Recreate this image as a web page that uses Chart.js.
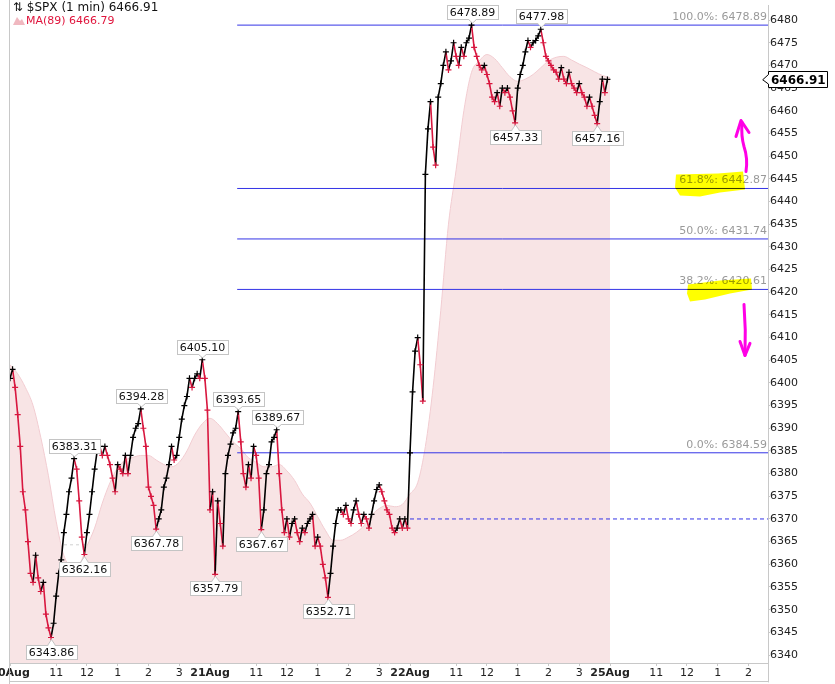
<!DOCTYPE html>
<html>
<head>
<meta charset="utf-8">
<script src="https://cdn.jsdelivr.net/npm/chart.js@4.4.0/dist/chart.umd.min.js"></script>
<style>
  html, body { margin: 0; padding: 0; background: #fff; }
  canvas { display: block; }
</style>
</head>
<body>
<canvas id="spxChart" width="835" height="684"></canvas>
<script>
// trading minutes since 20Aug 9:30, each session is 390 min long
const dayStart = [0, 390, 780];
const sampleStep = 5;   // closes sampled every 5 min
const maStep = 15;      // MA(89) read every 15 min

const day1Close = [6401, 6403, 6399, 6393, 6386, 6376, 6372, 6365, 6358, 6356, 6362, 6357, 6354, 6356, 6349, 6346,
  6343.86, 6347, 6353, 6358, 6361, 6367, 6371, 6376, 6379, 6383.31, 6381, 6374, 6366, 6362.16, 6367, 6371, 6376,
  6381, 6385, 6386, 6384, 6386, 6384, 6382, 6379, 6376, 6382, 6381, 6380, 6384, 6380, 6384, 6388, 6390, 6391,
  6394.28, 6390, 6386, 6377, 6375, 6373, 6367.78, 6370, 6372, 6377, 6379, 6382, 6386, 6383, 6384, 6388, 6392,
  6395, 6397, 6401, 6399, 6401, 6402, 6401, 6405.10, 6401, 6394];
const day2Close = [6372, 6376, 6357.79, 6374, 6369, 6364, 6380, 6384, 6386.5, 6389, 6390, 6393.65, 6387, 6380,
  6377, 6382, 6379, 6386, 6384, 6379, 6367.67, 6372, 6380, 6382, 6387, 6388, 6389.67, 6380, 6372, 6367, 6370,
  6366, 6369, 6370, 6367, 6365, 6368, 6367, 6369, 6370, 6371, 6364, 6366, 6364, 6360, 6357, 6352.71, 6358, 6364,
  6369, 6372, 6372, 6371, 6373, 6370, 6369, 6372, 6374, 6371, 6369, 6371, 6370, 6368, 6371, 6374, 6376.5, 6377.5,
  6376, 6374, 6372, 6371, 6368, 6367, 6368, 6370, 6368, 6370, 6368];
const day3Close = [6384.59, 6398, 6407, 6410, 6404, 6396, 6446, 6456, 6462, 6452, 6448, 6463, 6466, 6470, 6473,
  6469, 6471, 6475, 6472, 6470, 6474, 6472, 6475, 6476, 6478.89, 6474, 6472, 6470, 6469, 6470, 6468, 6466, 6463,
  6462, 6464, 6461, 6465, 6464, 6465, 6463, 6460, 6457.33, 6465, 6468, 6470, 6473, 6475.5, 6474, 6475, 6475.5,
  6476.5, 6477.98, 6475, 6472, 6471, 6470, 6469, 6468.5, 6467, 6469.5, 6467, 6466, 6468.5, 6466, 6465, 6464, 6466,
  6464, 6463, 6461, 6463, 6461, 6459, 6457.16, 6462, 6467, 6464, 6466.91];

const maDay1 = [6404, 6402, 6399, 6395, 6388, 6379.5, 6369.5, 6362, 6359.5, 6360, 6364, 6368, 6373.5, 6378, 6381.3,
  6383, 6383.6, 6384, 6384, 6383, 6382, 6381.5, 6382.5, 6385, 6388.5, 6391];
const maDay2 = [6392.2, 6391, 6389, 6387, 6385.5, 6383.5, 6382.5, 6381.5, 6381.5, 6382, 6380.6, 6378.5, 6375.5,
  6373.5, 6370.5, 6367.5, 6365.3, 6365.3, 6366, 6367, 6368.5, 6370.8, 6372.3, 6373, 6372.7, 6373.2];
const maDay3 = [6375.5, 6378, 6386, 6399, 6416, 6435, 6447, 6460, 6468.5, 6471, 6472.4, 6471.5, 6469.5, 6467.5,
  6466.5, 6467, 6468, 6469.5, 6471, 6471.8, 6472, 6471.2, 6470.3, 6469.5, 6468.6, 6467.8, 6467.3];

// fibonacci retracement drawn from the 21Aug morning
const fibLevels = ['100.0%', '61.8%', '50.0%', '38.2%', '0.0%'];
const fibValues = [6478.89, 6442.87, 6431.74, 6420.61, 6384.59];
const fibStartT = 443;
const closeAug21 = 6370;
const closeAug19 = 6364.3;

// high / low callouts
const calloutTimes = [80, 125, 145, 255, 285, 375, 400, 445, 490, 520, 620, 900, 985, 1035, 1145];
const calloutValues = [6343.86, 6383.31, 6362.16, 6394.28, 6367.78, 6405.10, 6357.79, 6393.65, 6367.67, 6389.67,
  6352.71, 6478.89, 6457.33, 6477.98, 6457.16];
const calloutKinds = ['L', 'H', 'L', 'H', 'L', 'H', 'L', 'H', 'L', 'H', 'L', 'H', 'L', 'H', 'L'];

const lastPrice = 6466.91;
const lastMA = 6466.79;

const xTickTimes = [0, 90, 150, 210, 270, 330, 390, 480, 540, 600, 660, 720, 780, 870, 930, 990, 1050, 1110,
  1170, 1260, 1320, 1380, 1440];
const xTickLabels = ['20Aug', '11', '12', '1', '2', '3', '21Aug', '11', '12', '1', '2', '3', '22Aug', '11', '12',
  '1', '2', '3', '25Aug', '11', '12', '1', '2'];
const yTickValues = [6340, 6345, 6350, 6355, 6360, 6365, 6370, 6375, 6380, 6385, 6390, 6395, 6400, 6405, 6410,
  6415, 6420, 6425, 6430, 6435, 6440, 6445, 6450, 6455, 6460, 6465, 6470, 6475, 6480];

const X_MAX = 1478.1;
const Y_MIN = 6338.24;
const Y_MAX = 6483.28;

const FONT = 'DejaVu Sans';
const UP = '#000000';
const DOWN = '#d8173f';
const FIB_BLUE = '#3434e6';

// build {x,y} points for the library
const priceData = [];
[day1Close, day2Close, day3Close].forEach((arr, d) => {
  arr.forEach((v, i) => priceData.push({ x: dayStart[d] + i * sampleStep, y: v }));
});
const maData = [];
[maDay1, maDay2, maDay3].forEach((arr, d) => {
  arr.forEach((v, i) => maData.push({ x: dayStart[d] + i * maStep, y: v }));
});

function pointColor(c) {
  const i = c.dataIndex;
  if (i > 0 && priceData[i].y < priceData[i - 1].y) return DOWN;
  return UP;
}

const fibSets = fibValues.map(v => ({
  data: [{ x: fibStartT, y: v }, { x: X_MAX, y: v }],
  borderColor: FIB_BLUE, borderWidth: 1, pointRadius: 0, order: 1
}));

const extras = {
  id: 'extras',
  afterDatasetsDraw(chart) {
    const c = chart.ctx;
    const xs = chart.scales.x, ys = chart.scales.y;
    const area = chart.chartArea;
    c.save();

    // fib labels
    c.font = '11px ' + FONT;
    c.fillStyle = '#9a9a9a';
    c.textAlign = 'right';
    c.textBaseline = 'middle';
    fibValues.forEach((v, k) => {
      c.fillText(fibLevels[k] + ': ' + v.toFixed(2), area.right - 1, ys.getPixelForValue(v) - 8);
    });

    // callouts
    calloutValues.forEach((v, k) => {
      const px = Math.round(xs.getPixelForValue(calloutTimes[k])) + 0.5;
      const py = ys.getPixelForValue(v);
      const high = calloutKinds[k] === 'H';
      const txt = v.toFixed(2);
      c.font = '11px ' + FONT;
      const w = Math.round(c.measureText(txt).width) + 6, h = 14;
      const cy = Math.round(high ? py - 13 : py + 14);
      const bx = Math.round(px - w / 2) + 0.5, by = cy - h / 2 + 0.5;
      c.fillStyle = '#fff';
      c.strokeStyle = '#c4c4c4';
      c.lineWidth = 1;
      c.fillRect(bx, by, w, h);
      c.strokeRect(bx, by, w, h);
      // pointer
      const edge = high ? by + h : by;
      const tip = high ? py - 2 : py + 2;
      c.beginPath();
      c.moveTo(px - 4, edge);
      c.lineTo(px, tip);
      c.lineTo(px + 4, edge);
      c.fill();
      c.stroke();
      c.fillStyle = '#fff';
      c.fillRect(px - 3, high ? edge - 1.5 : edge - 0.5, 6, 2);
      c.fillStyle = '#111';
      c.textAlign = 'center';
      c.textBaseline = 'middle';
      c.fillText(txt, px, cy + 1);
    });

    // highlighter marks and arrows near the fib labels
    const R = area.right;
    const y618 = ys.getPixelForValue(fibValues[1]);
    const y382 = ys.getPixelForValue(fibValues[3]);
    c.globalCompositeOperation = 'multiply';
    c.fillStyle = '#ffff00';
    const blob = (pts, yy) => {
      c.beginPath();
      pts.forEach((p, i) => (i ? c.lineTo(R + p[0], yy + p[1]) : c.moveTo(R + p[0], yy + p[1])));
      c.closePath();
      c.fill();
    };
    blob([[-92, -14], [-50, -15], [-25, -17], [-23, 1], [-48, 4], [-68, 8], [-88, 7], [-93, -1]], y618);
    blob([[-80, -5], [-48, -9], [-17, -11], [-16, 0], [-38, 4], [-63, 10], [-78, 12], [-81, 4]], y382);
    c.globalCompositeOperation = 'source-over';

    c.strokeStyle = '#ff00e6';
    c.lineWidth = 3;
    c.lineCap = 'round';
    c.lineJoin = 'round';
    c.beginPath();
    c.moveTo(R - 22, y618 - 17);
    c.quadraticCurveTo(R - 20, y618 - 30, R - 24, y618 - 42);
    c.quadraticCurveTo(R - 27, y618 - 52, R - 26, y618 - 66);
    c.stroke();
    c.beginPath();
    c.moveTo(R - 32, y618 - 52);
    c.lineTo(R - 27, y618 - 68);
    c.lineTo(R - 19, y618 - 56);
    c.stroke();
    c.beginPath();
    c.moveTo(R - 24, y382 + 15);
    c.quadraticCurveTo(R - 22, y382 + 40, R - 23, y382 + 66);
    c.stroke();
    c.beginPath();
    c.moveTo(R - 28, y382 + 52);
    c.lineTo(R - 23, y382 + 66);
    c.lineTo(R - 18, y382 + 54);
    c.stroke();

    // legend
    c.textAlign = 'left';
    c.textBaseline = 'middle';
    c.font = '12px ' + FONT;
    c.fillStyle = '#111';
    c.fillText('\u21c5 $SPX (1 min) ' + lastPrice.toFixed(2), 13, 8);
    c.fillStyle = '#f0b8c0';
    c.beginPath();
    c.moveTo(13, 25); c.lineTo(17, 17); c.lineTo(20, 21); c.lineTo(22, 19); c.lineTo(25, 25);
    c.closePath(); c.fill();
    c.font = '11px ' + FONT;
    c.fillStyle = '#e0143c';
    c.fillText('MA(89) ' + lastMA.toFixed(2), 26, 21);

    // last price tag on the axis
    const ty = Math.round(ys.getPixelForValue(lastPrice)) + 0.5;
    c.font = 'bold 12px ' + FONT;
    const tw = Math.round(c.measureText(lastPrice.toFixed(2)).width) + 4;
    c.fillStyle = '#fff';
    c.strokeStyle = '#000';
    c.lineWidth = 1;
    c.beginPath();
    c.moveTo(R - 5, ty);
    c.lineTo(R + 0.5, ty - 5);
    c.lineTo(R + 0.5, ty - 8);
    c.lineTo(R + 0.5 + tw, ty - 8);
    c.lineTo(R + 0.5 + tw, ty + 8);
    c.lineTo(R + 0.5, ty + 8);
    c.lineTo(R + 0.5, ty + 5);
    c.closePath();
    c.fill();
    c.stroke();
    c.fillStyle = '#000';
    c.fillText(lastPrice.toFixed(2), R + 3, ty + 1);

    // frame lines
    c.strokeStyle = '#c8c8c8';
    c.beginPath();
    c.moveTo(area.left - 0.5, 0); c.lineTo(area.left - 0.5, 684);
    c.moveTo(area.left, 681.5); c.lineTo(R, 681.5);
    c.moveTo(R + 0.5, area.bottom); c.lineTo(R + 0.5, 682);
    c.stroke();
    c.restore();
  }
};

new Chart(document.getElementById('spxChart').getContext('2d'), {
  type: 'line',
  data: {
    datasets: [
      {
        label: '$SPX',
        data: priceData,
        borderWidth: 1.6,
        pointStyle: 'cross',
        pointRadius: 3,
        pointBorderWidth: 1.2,
        pointBorderColor: pointColor,
        segment: { borderColor: s => (s.p1.parsed.y < s.p0.parsed.y ? DOWN : UP) },
        order: 0
      },
      ...fibSets,
      {
        data: [{ x: dayStart[2], y: closeAug21 }, { x: X_MAX, y: closeAug21 }],
        borderColor: FIB_BLUE, borderWidth: 1, borderDash: [4, 3], pointRadius: 0, order: 1
      },
      {
        data: [{ x: dayStart[0], y: closeAug19 }, { x: dayStart[2], y: closeAug19 }],
        borderColor: '#d0d0d0', borderWidth: 1, borderDash: [3, 3], pointRadius: 0, order: 3
      },
      {
        label: 'MA(89)',
        data: maData,
        borderColor: '#f2cdd2',
        borderWidth: 1,
        backgroundColor: '#f8e4e5',
        fill: 'start',
        pointRadius: 0,
        cubicInterpolationMode: 'monotone',
        order: 2
      }
    ]
  },
  options: {
    responsive: false,
    animation: false,
    layout: { padding: { left: 10, top: 0, right: 0, bottom: 0 } },
    plugins: { legend: { display: false }, tooltip: { enabled: false } },
    scales: {
      x: {
        type: 'linear',
        min: 0,
        max: X_MAX,
        afterFit: s => { s.height = 21; s.paddingLeft = 0; s.paddingRight = 0; },
        afterBuildTicks: s => { s.ticks = xTickTimes.map(v => ({ value: v })); },
        ticks: {
          autoSkip: false,
          maxRotation: 0,
          padding: 1,
          color: '#222',
          callback: (v, i) => xTickLabels[i],
          font: c => ({ family: FONT, size: 11, weight: /Aug/.test(xTickLabels[c.index]) ? 'bold' : 'normal' })
        },
        grid: { drawOnChartArea: false, tickLength: 3, color: '#c8c8c8' },
        border: { color: '#c8c8c8' }
      },
      y: {
        position: 'right',
        min: Y_MIN,
        max: Y_MAX,
        afterFit: s => { s.width = 67; s.paddingTop = 0; s.paddingBottom = 0; },
        afterBuildTicks: s => { s.ticks = yTickValues.map(v => ({ value: v })); },
        ticks: { padding: 0, color: '#222', font: { family: FONT, size: 11 }, callback: v => String(v) },
        grid: { drawOnChartArea: false, tickLength: 2, color: '#c8c8c8' },
        border: { color: '#c8c8c8' }
      }
    }
  },
  plugins: [extras]
});
</script>
</body>
</html>
